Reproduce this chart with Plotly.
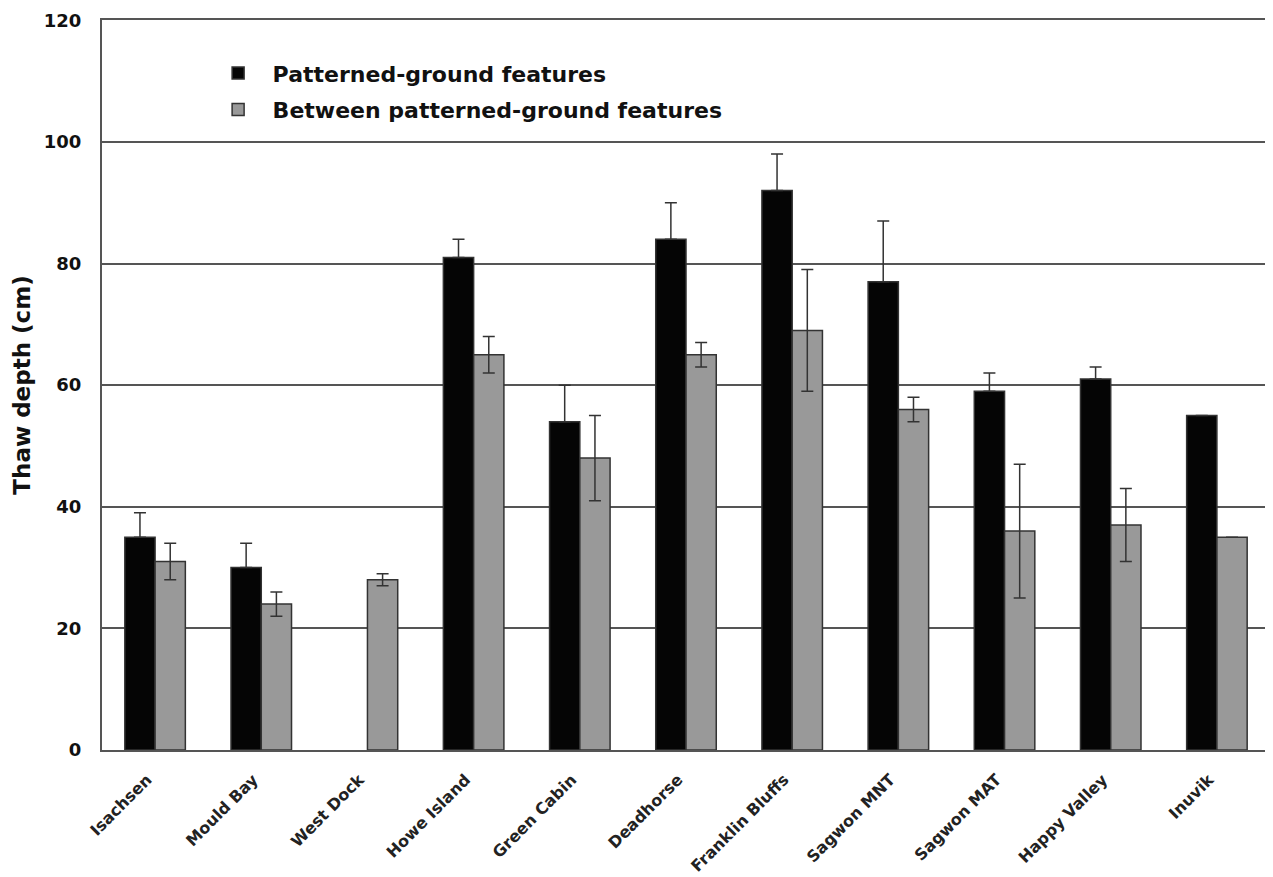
import plotly.graph_objects as go

sites = ["Isachsen", "Mould Bay", "West Dock", "Howe Island", "Green Cabin",
         "Deadhorse", "Franklin Bluffs", "Sagwon MNT", "Sagwon MAT",
         "Happy Valley", "Inuvik"]

pg_depth = [35, 30, None, 81, 54, 84, 92, 77, 59, 61, 55]
pg_err = [4, 4, 0, 3, 6, 6, 6, 10, 3, 2, 0]

between_depth = [31, 24, 28, 65, 48, 65, 69, 56, 36, 37, 35]
between_err = [3, 2, 1, 3, 7, 2, 10, 2, 11, 6, 0]

y_ticks = [0, 20, 40, 60, 80, 100, 120]

FONT = "DejaVu Sans"

fig = go.Figure()
fig.add_trace(go.Bar(
    name="Patterned-ground features",
    x=sites, y=pg_depth, legendgroup="a",
    marker=dict(color="#050505", line=dict(color="#333333", width=1.5)),
    error_y=dict(type="data", array=pg_err, arrayminus=[0] * len(pg_err),
                 color="#333333", thickness=1.5, width=6),
))
fig.add_trace(go.Bar(
    name="Between patterned-ground features",
    x=sites, y=between_depth, legendgroup="b",
    marker=dict(color="#999999", line=dict(color="#333333", width=1.5)),
    error_y=dict(type="data", array=between_err, color="#333333",
                 thickness=1.5, width=6),
))

fig.update_layout(
    width=1273, height=877,
    margin=dict(l=94, r=11, t=12, b=135, autoexpand=False),
    paper_bgcolor="white", plot_bgcolor="white",
    barmode="group", bargap=0.43, bargroupgap=0,
    font=dict(family=FONT, color="#111111"),
    legend=dict(
        x=0.087, y=0.956, xanchor="left", yanchor="top",
        bgcolor="rgba(0,0,0,0)",
        font=dict(family=FONT, size=22, color="#111111", weight="bold"),
        traceorder="grouped", tracegroupgap=5, itemwidth=59,
    ),
    showlegend=True,
)
fig.update_xaxes(
    type="category", tickangle=-45,
    tickfont=dict(family=FONT, size=16, color="#222222", weight="bold"),
    showline=True, linecolor="#555555", linewidth=2,
    mirror=True,
    ticks="", showgrid=False, ticklabelstandoff=12, ticklabelshift=-8,
)
fig.update_yaxes(
    range=[0, 120.05], tickvals=y_ticks,
    tickfont=dict(family=FONT, size=18, color="#111111", weight="bold"),
    showline=True, linecolor="#555555", linewidth=2,
    showgrid=True, gridcolor="#555555", gridwidth=2,
    zeroline=False, ticks="", ticklabelstandoff=15,
    ticklabeloverflow="allow",
    title=dict(text="Thaw depth (cm)", standoff=7,
               font=dict(family=FONT, size=23, color="#111111", weight="bold")),
)

fig.write_html("out.html")
